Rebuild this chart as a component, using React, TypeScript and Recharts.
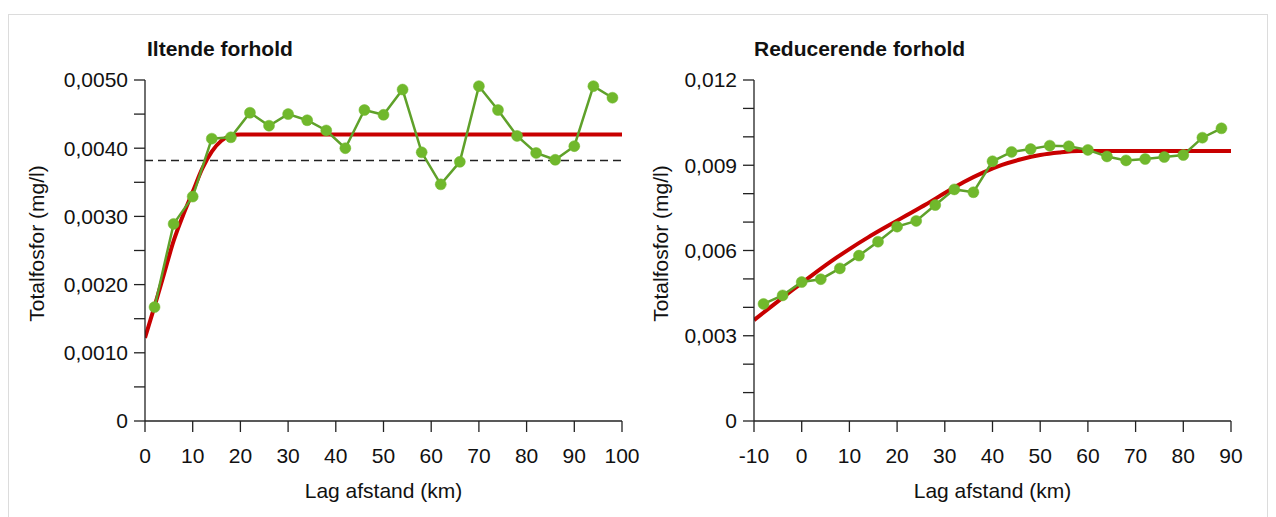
import React from 'react';
import { LineChart, Line, XAxis, YAxis, ReferenceLine, Label } from 'recharts';

// ---- Left panel: Iltende forhold ----
const leftDistance = [2, 6, 10, 14, 18, 22, 26, 30, 34, 38, 42, 46, 50, 54, 58, 62, 66, 70, 74, 78, 82, 86, 90, 94, 98];
const leftObserved = [0.00167, 0.00289, 0.00329, 0.00414, 0.00416, 0.00452, 0.00433, 0.0045, 0.00441, 0.00426, 0.0040, 0.00456, 0.00449, 0.00486, 0.00394, 0.00347, 0.0038, 0.00491, 0.00456, 0.00418, 0.00393, 0.00383, 0.00403, 0.00491, 0.00474];
const leftModelDistance = [0, 2, 4, 6, 8, 10, 12, 14, 16, 18, 20, 100];
const leftModel = [0.00122, 0.00168, 0.00216, 0.00264, 0.00302, 0.00336, 0.0037, 0.00395, 0.00411, 0.00418, 0.0042, 0.0042];
const leftDashed = 0.00382;
const leftXTicks = [0, 10, 20, 30, 40, 50, 60, 70, 80, 90, 100];
const leftYTicks = [0, 0.0005, 0.001, 0.0015, 0.002, 0.0025, 0.003, 0.0035, 0.004, 0.0045, 0.005];
const leftYLabels = ['0', '', '0,0010', '', '0,0020', '', '0,0030', '', '0,0040', '', '0,0050'];

// ---- Right panel: Reducerende forhold ----
const rightDistance = [-8, -4, 0, 4, 8, 12, 16, 20, 24, 28, 32, 36, 40, 44, 48, 52, 56, 60, 64, 68, 72, 76, 80, 84, 88];
const rightObserved = [0.00412, 0.00442, 0.00489, 0.00499, 0.00537, 0.00582, 0.00631, 0.00684, 0.00704, 0.0076, 0.00815, 0.00805, 0.00914, 0.00947, 0.00957, 0.00969, 0.00967, 0.00954, 0.00931, 0.00917, 0.00922, 0.00929, 0.00936, 0.00997, 0.0103];
const rightModelDistance = [-10, -6, -2, 2, 6, 10, 14, 18, 22, 26, 30, 34, 38, 42, 46, 50, 54, 58, 90];
const rightModel = [0.00355, 0.00408, 0.0046, 0.00511, 0.0056, 0.00605, 0.00647, 0.00686, 0.00724, 0.00762, 0.00802, 0.00841, 0.00874, 0.00901, 0.00921, 0.00936, 0.00945, 0.0095, 0.0095];
const rightXTicks = [-10, 0, 10, 20, 30, 40, 50, 60, 70, 80, 90];
const rightYTicks = [0, 0.001, 0.002, 0.003, 0.004, 0.005, 0.006, 0.007, 0.008, 0.009, 0.01, 0.011, 0.012];
const rightYLabels = ['0', '', '', '0,003', '', '', '0,006', '', '', '0,009', '', '', '0,012'];

const titles = ['Iltende forhold', 'Reducerende forhold'];
const yTitle = 'Totalfosfor (mg/l)';
const xTitle = 'Lag afstand (km)';

const FONT = '"Liberation Sans", Arial, Helvetica, sans-serif';
const FS = 21;
const TEXT = '#111';
const AXIS = '#222';
const RED = '#c80000';
const GREEN_LINE = '#5fa12a';
const GREEN_DOT = '#70b82c';

const zip = (xs: number[], ys: number[]) => xs.map((x, i) => ({ x, y: ys[i] }));

const yTitleRenderer = (dx: number) => (props: any) => {
  const vb = props.viewBox || { x: 0, y: 0, width: 0, height: 0 };
  const cx = vb.x + dx;
  const cy = vb.y + vb.height / 2 - 7;
  return (
    <text x={cx} y={cy} transform={`rotate(-90, ${cx}, ${cy})`} textAnchor="middle" dominantBaseline="central"
      fontFamily={FONT} fontSize={FS} fill={TEXT}>{yTitle}</text>
  );
};

const xTitleRenderer = (props: any) => {
  const vb = props.viewBox || { x: 0, y: 0, width: 0, height: 0 };
  return (
    <text x={vb.x + vb.width / 2} y={vb.y + 77} textAnchor="middle" fontFamily={FONT} fontSize={FS} fill={TEXT}>{xTitle}</text>
  );
};

type PanelProps = {
  width: number;
  left: number;
  yAxisWidth: number;
  marginRight: number;
  xDomain: [number, number];
  xTicks: number[];
  yDomain: [number, number];
  yTicks: number[];
  yLabels: string[];
  model: { x: number; y: number }[];
  observed: { x: number; y: number }[];
  dashed?: number;
  yTitleDx: number;
};

function Panel(p: PanelProps) {
  const tickStyle = { fontFamily: FONT, fontSize: FS, fill: TEXT };
  return (
    <div style={{ position: 'absolute', left: p.left, top: 0 }}>
      <LineChart width={p.width} height={517} margin={{ top: 80, right: p.marginRight, bottom: 0, left: 0 }}>
        <XAxis type="number" dataKey="x" domain={p.xDomain} ticks={p.xTicks} interval={0} allowDataOverflow
          height={96} tickSize={11} tickMargin={16} tick={tickStyle}
          axisLine={{ stroke: AXIS, strokeWidth: 1.3 }} tickLine={{ stroke: AXIS, strokeWidth: 1.3 }}>
          <Label content={xTitleRenderer} />
        </XAxis>
        <XAxis xAxisId="top" orientation="top" type="number" dataKey="x" domain={p.xDomain} height={0}
          tick={false} tickLine={false} axisLine={{ stroke: AXIS, strokeWidth: 1.3 }} />
        <YAxis type="number" domain={p.yDomain} ticks={p.yTicks} interval={0} allowDataOverflow
          width={p.yAxisWidth} tickSize={11} tickMargin={6} tick={tickStyle}
          tickFormatter={(_v: number, i: number) => p.yLabels[i]}
          axisLine={{ stroke: AXIS, strokeWidth: 1.3 }} tickLine={{ stroke: AXIS, strokeWidth: 1.3 }}>
          <Label content={yTitleRenderer(p.yTitleDx)} />
        </YAxis>
        <YAxis yAxisId="right" orientation="right" type="number" domain={p.yDomain} width={0}
          tick={false} tickLine={false} axisLine={{ stroke: AXIS, strokeWidth: 1.3 }} />
        {p.dashed !== undefined && (
          <ReferenceLine y={p.dashed} stroke={AXIS} strokeWidth={1.3} strokeDasharray="8 5" />
        )}
        <Line data={p.model} dataKey="y" type="monotone" stroke={RED} strokeWidth={4} dot={false}
          isAnimationActive={false} />
        <Line data={p.observed} dataKey="y" type="linear" stroke={GREEN_LINE} strokeWidth={2.5}
          dot={{ r: 5.5, fill: GREEN_DOT, stroke: GREEN_DOT, strokeWidth: 0.5 }} isAnimationActive={false} />
      </LineChart>
    </div>
  );
}

export default function App() {
  const titleStyle: React.CSSProperties = {
    position: 'absolute', top: 38, fontFamily: FONT, fontSize: FS, lineHeight: `${FS}px`, fontWeight: 'bold', color: TEXT, whiteSpace: 'nowrap',
  };
  return (
    <div style={{ position: 'fixed', left: 0, top: 0, width: 1276, height: 517, background: '#fff', overflow: 'hidden' }}>
      <div style={{ position: 'absolute', left: 8, top: 14, width: 1260, height: 520, border: '1px solid #dcdcdc', boxSizing: 'border-box' }} />
      <Panel width={640} left={0} yAxisWidth={145} marginRight={18} xDomain={[0, 100]} xTicks={leftXTicks}
        yDomain={[0, 0.005]} yTicks={leftYTicks} yLabels={leftYLabels}
        model={zip(leftModelDistance, leftModel)} observed={zip(leftDistance, leftObserved)} dashed={leftDashed} yTitleDx={36} />
      <Panel width={636} left={640} yAxisWidth={114} marginRight={45} xDomain={[-10, 90]} xTicks={rightXTicks}
        yDomain={[0, 0.012]} yTicks={rightYTicks} yLabels={rightYLabels}
        model={zip(rightModelDistance, rightModel)} observed={zip(rightDistance, rightObserved)} yTitleDx={20} />
      <div style={{ ...titleStyle, left: 147 }}>{titles[0]}</div>
      <div style={{ ...titleStyle, left: 754 }}>{titles[1]}</div>
    </div>
  );
}
